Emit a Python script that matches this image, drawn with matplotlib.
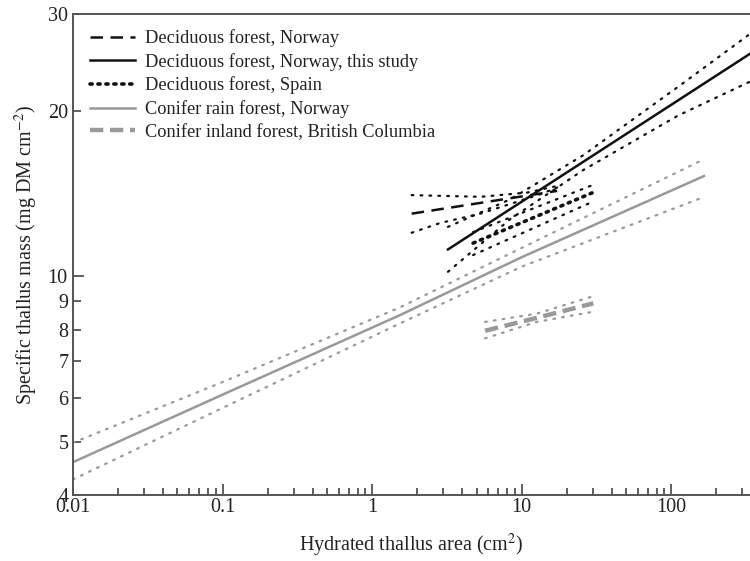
import numpy as np
import matplotlib
matplotlib.use('Agg')
import matplotlib.pyplot as plt
from matplotlib.ticker import FixedLocator, FixedFormatter, NullFormatter, LogLocator

plt.rcParams['font.family'] = ['Liberation Serif', 'DejaVu Serif']
plt.rcParams['mathtext.fontset'] = 'stix'

# Deciduous forest, Norway (earlier study)
nor_x = [1.84, 17.3]
nor_y = [13.0, 14.3]
nor_up_x = [1.84, 5.3, 10.9, 17.3]
nor_up_y = [14.05, 13.95, 14.2, 14.6]
nor_lo_x = [1.84, 2.85, 5.3, 13.3, 17.3]
nor_lo_y = [12.0, 12.5, 13.0, 14.1, 14.5]

# Deciduous forest, Norway, this study
ts_x = [3.22, 337]
ts_y = [11.19, 25.4]
ts_ci_x = [3.22, 8.38, 25.8, 111, 337]
ts_up_y = [12.3, 13.8, 16.6, 22.1, 27.6]
ts_lo_y = [10.19, 12.7, 15.6, 19.6, 22.6]

# Deciduous forest, Spain
sp_x = [4.74, 29.6]
sp_y = [11.49, 14.18]
sp_up_y = [12.03, 14.64]
sp_lo_y = [10.93, 13.65]

# Conifer rain forest, Norway
cr_x = [0.01, 0.1, 1.54, 10, 166]
cr_y = [4.59, 6.09, 8.50, 10.83, 15.22]
cr_up_y = [4.98, 6.42, 8.78, 11.26, 16.33]
cr_lo_y = [4.27, 5.76, 8.21, 10.41, 13.94]

# Conifer inland forest, British Columbia
bc_x = [5.70, 12.6, 30.2]
bc_y = [7.96, 8.40, 8.93]
bc_up_y = [8.26, 8.55, 9.20]
bc_lo_y = [7.71, 8.26, 8.62]

black = '#111111'
grey = '#999999'
dot = dict(linestyle=(0, (0.8, 3.2)), lw=1.6, dash_capstyle='round')

fig = plt.figure(figsize=(7.5, 5.61), dpi=100)
ax = fig.add_axes([0.0973, 0.1176, 0.9027, 0.8574])

# confidence bands first
ax.plot(cr_x, cr_up_y, color=grey, **dot)
ax.plot(cr_x, cr_lo_y, color=grey, **dot)
ax.plot(bc_x, bc_up_y, color=grey, **dot)
ax.plot(bc_x, bc_lo_y, color=grey, **dot)
ax.plot(nor_up_x, nor_up_y, color=black, **dot)
ax.plot(nor_lo_x, nor_lo_y, color=black, **dot)
ax.plot(ts_ci_x, ts_up_y, color=black, **dot)
ax.plot(ts_ci_x, ts_lo_y, color=black, **dot)
ax.plot(sp_x, sp_up_y, color=black, **dot)
ax.plot(sp_x, sp_lo_y, color=black, **dot)

ax.plot(nor_x, nor_y, color=black, lw=1.8, linestyle=(0, (5, 3)),
        label='Deciduous forest, Norway')
ax.plot(ts_x, ts_y, color=black, lw=1.8, label='Deciduous forest, Norway, this study')
ax.plot(sp_x, sp_y, color=black, lw=2.6, linestyle=(0, (0.6, 1.6)), dash_capstyle='round',
        label='Deciduous forest, Spain')
ax.plot(cr_x, cr_y, color=grey, lw=1.8, label='Conifer rain forest, Norway')
ax.plot(bc_x, bc_y, color=grey, lw=3.2, linestyle=(0, (3, 1.5)),
        label='Conifer inland forest, British Columbia')

ax.set_xscale('log')
ax.set_yscale('log')
ax.set_xlim(0.01, 337)
ax.set_ylim(4, 30)

ax.xaxis.set_major_locator(FixedLocator([0.01, 0.1, 1, 10, 100]))
ax.xaxis.set_major_formatter(FixedFormatter(['0.01', '0.1', '1', '10', '100']))
ax.xaxis.set_minor_locator(LogLocator(base=10, subs=np.arange(2, 10)))
ax.xaxis.set_minor_formatter(NullFormatter())

ax.yaxis.set_major_locator(FixedLocator([10]))
ax.yaxis.set_major_formatter(FixedFormatter(['10']))
ax.yaxis.set_minor_locator(FixedLocator([4, 5, 6, 7, 8, 9, 20, 30]))
ax.yaxis.set_minor_formatter(FixedFormatter(['4', '5', '6', '7', '8', '9', '20', '30']))

ax.tick_params(which='both', direction='in', colors='#444444', labelcolor='#222222',
               labelsize=14.5, width=1.2, top=False, right=False)
ax.tick_params(which='major', length=8)
ax.tick_params(which='minor', length=5)
ax.tick_params(axis='y', which='minor', length=6)
ax.tick_params(axis='x', pad=2)
ax.tick_params(axis='y', pad=4)

for s in ['left', 'bottom', 'top']:
    ax.spines[s].set_color('#555555')
    ax.spines[s].set_linewidth(1.4)
ax.spines['right'].set_visible(False)

ax.set_xlabel('Hydrated thallus area (cm$^2$)', fontsize=14.5, color='#222222', labelpad=11)
ax.set_ylabel('Specific thallus mass (mg DM cm$^{-2}$)', fontsize=14.5, color='#222222', labelpad=5)

leg = ax.legend(loc='upper left', bbox_to_anchor=(0.025, 0.968), frameon=False,
                fontsize=13.2, handlelength=2.45, handletextpad=0.55, labelspacing=0.31,
                borderaxespad=0, borderpad=0)
for t in leg.get_texts():
    t.set_color('#222222')

fig.savefig('out.png', dpi=100)
